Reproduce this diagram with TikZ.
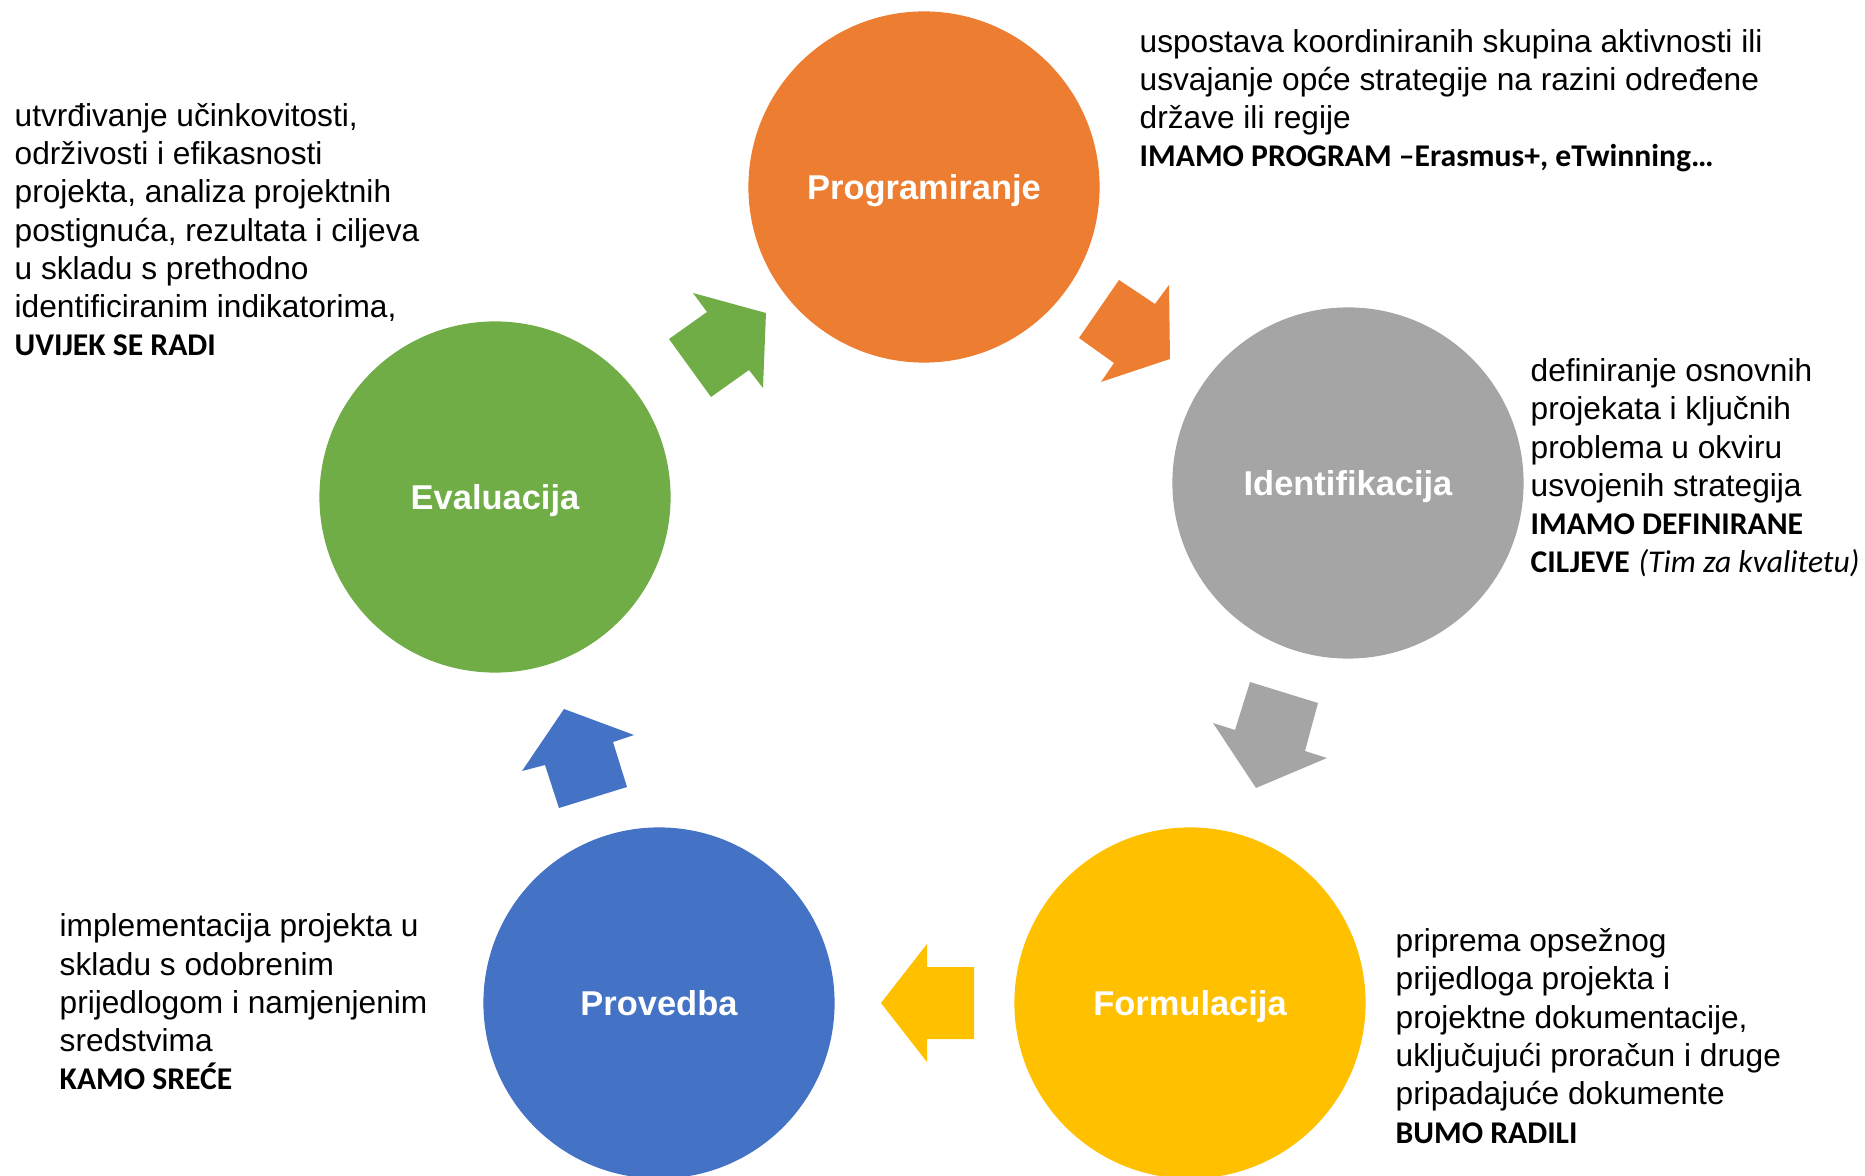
\documentclass[tikz,border=0pt]{standalone}
\usepackage{fontspec}
\setmainfont{Liberation Sans}
\newfontfamily\carlito{Carlito}
\usetikzlibrary{positioning}
\definecolor{progorange}{HTML}{ED7D31}
\definecolor{idgray}{HTML}{A5A5A5}
\definecolor{formyellow}{HTML}{FFC000}
\definecolor{provblue}{HTML}{4472C4}
\definecolor{evalgreen}{HTML}{70AD47}
\tikzset{
  phase/.style={circle, fill=#1, minimum size=3.51cm, inner sep=0pt,
    text height=0.72em, text depth=0pt,
    text=white, font=\bfseries\fontsize{9.8}{11.8}\selectfont},
  desc/.style={anchor=base west, align=left, inner sep=0pt,
    font=\fontsize{9}{10.9}\selectfont}
}
\newcommand{\hl}[1]{{\carlito\bfseries #1}}

\begin{document}
\begin{tikzpicture}[x=0.01cm, y=-0.01cm]
                \useasboundingbox (0,0) rectangle (1865,1176);

                %the five phases of the cycle, define nodes first
                \node[phase=progorange] (P) at (924,187) {Programiranje};
                \node[phase=idgray] (I) at (1348,483) {Identifikacija};
                \node[phase=formyellow] (F) at (1190,1003) {Formulacija};
                \node[phase=provblue] (B) at (659,1003) {Provedba};
                \node[phase=evalgreen] (E) at (495,497) {Evaluacija};

                %block arrows between the phases
                \fill[progorange] (1119,280) -- (1155,304) -- (1169,285) -- (1170,359) -- (1101,382) -- (1114,363) -- (1079,338) -- cycle;
                \fill[idgray] (1250,682) -- (1318,703) -- (1305,751) -- (1327,758) -- (1256,788) -- (1213,723) -- (1235,730) -- cycle;
                \fill[formyellow] (927,944) -- (927,967) -- (974,967) -- (974,1039) -- (927,1039) -- (927,1062) -- (881,1003) -- cycle;
                \fill[provblue] (564,709) -- (634,735) -- (613,742) -- (627,787) -- (559,808) -- (545,765) -- (522,771) -- cycle;
                \fill[evalgreen] (766,313) -- (693,293) -- (707,312) -- (669,339) -- (711,397) -- (749,370) -- (763,388) -- cycle;

                %describe each phase (placed at the baseline of the last line)
                \node[desc] (Ptxt) at (1139,167) {uspostava koordiniranih skupina aktivnosti ili\\
                  usvajanje op\'ce strategije na razini odre\dj ene\\
                  dr\v zave ili regije\\
                  \hl{IMAMO PROGRAM \textendash Erasmus+, eTwinning\ldots}};
                \node[desc] (Itxt) at (1530,573) {definiranje osnovnih\\
                  projekata i klju\v cnih\\
                  problema u okviru\\
                  usvojenih strategija\\
                  \hl{IMAMO DEFINIRANE}\\
                  \hl{CILJEVE} {\carlito\itshape (Tim za kvalitetu)}};
                \node[desc] (Ftxt) at (1395,1143) {priprema opse\v znog\\
                  prijedloga projekta i\\
                  projektne dokumentacije,\\
                  uklju\v cuju\'ci prora\v cun i druge\\
                  pripadaju\'ce dokumente\\
                  \hl{BUMO RADILI}};
                \node[desc] (Btxt) at (59,1090) {implementacija projekta u\\
                  skladu s odobrenim\\
                  prijedlogom i namjenjenim\\
                  sredstvima\\
                  \hl{KAMO SRE\'CE}};
                \node[desc] (Etxt) at (14,356) {utvr\dj ivanje u\v cinkovitosti,\\
                  odr\v zivosti i efikasnosti\\
                  projekta, analiza projektnih\\
                  postignu\'ca, rezultata i ciljeva\\
                  u skladu s prethodno\\
                  identificiranim indikatorima,\\
                  \hl{UVIJEK SE RADI}};
            \end{tikzpicture}
\end{document}
